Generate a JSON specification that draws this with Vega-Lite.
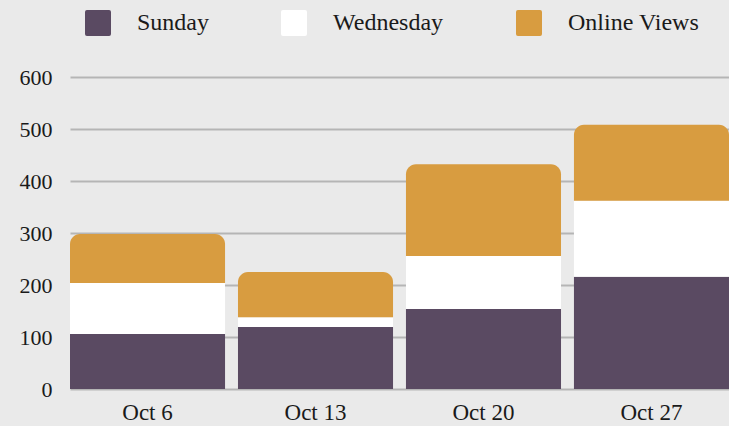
{
  "$schema": "https://vega.github.io/schema/vega-lite/v6.json",
  "autosize": {"type": "none"},
  "padding": {"left": 70, "top": 77, "right": 0, "bottom": 37},
  "width": 659,
  "height": 312,
  "background": "#eaeaea",
  "config": {"view": {"stroke": null}, "font": "Liberation Serif"},
  "data": {
    "values": [
      {"week": "Oct 6", "series": "Sunday", "rank": 1, "value": 106},
      {"week": "Oct 6", "series": "Wednesday", "rank": 2, "value": 98},
      {"week": "Oct 6", "series": "Online Views", "rank": 3, "value": 94},
      {"week": "Oct 13", "series": "Sunday", "rank": 1, "value": 119},
      {"week": "Oct 13", "series": "Wednesday", "rank": 2, "value": 19},
      {"week": "Oct 13", "series": "Online Views", "rank": 3, "value": 87},
      {"week": "Oct 20", "series": "Sunday", "rank": 1, "value": 154},
      {"week": "Oct 20", "series": "Wednesday", "rank": 2, "value": 102},
      {"week": "Oct 20", "series": "Online Views", "rank": 3, "value": 176},
      {"week": "Oct 27", "series": "Sunday", "rank": 1, "value": 216},
      {"week": "Oct 27", "series": "Wednesday", "rank": 2, "value": 146},
      {"week": "Oct 27", "series": "Online Views", "rank": 3, "value": 146}
    ]
  },
  "transform": [
    {"stack": "value", "groupby": ["week"], "sort": [{"field": "rank", "order": "ascending"}], "as": ["y0", "y1"]}
  ],
  "encoding": {
    "x": {
      "field": "week", "type": "nominal", "sort": ["Oct 6", "Oct 13", "Oct 20", "Oct 27"],
      "scale": {"paddingInner": 0.077, "paddingOuter": 0},
      "title": null,
      "axis": {"labelFontSize": 23, "labelPadding": 12, "ticks": false, "domain": false, "labelAngle": 0, "labelColor": "#1a1a1a", "labelFont": "Liberation Serif"}
    },
    "y": {
      "field": "y1", "type": "quantitative",
      "scale": {"domain": [0, 600], "nice": false},
      "title": null,
      "axis": {"values": [0, 100, 200, 300, 400, 500, 600], "labelFontSize": 22, "labelPadding": 18, "ticks": false, "domain": false, "gridColor": "#b5b5b5", "gridWidth": 2, "labelColor": "#1a1a1a", "labelFont": "Liberation Serif"}
    },
    "y2": {"field": "y0"},
    "color": {
      "field": "series", "type": "nominal",
      "scale": {"domain": ["Sunday", "Wednesday", "Online Views"], "range": ["#5a4a62", "#ffffff", "#d89c40"]},
      "legend": {
        "orient": "none", "legendX": 15, "legendY": -67, "direction": "horizontal", "title": null,
        "symbolType": "M-0.85,-1H0.85Q1,-1 1,-0.85V0.85Q1,1 0.85,1H-0.85Q-1,1 -1,0.85V-0.85Q-1,-1 -0.85,-1Z",
        "symbolSize": 676, "symbolStrokeWidth": 0, "symbolOpacity": 1,
        "labelFontSize": 24, "labelOffset": 26, "columnPadding": 72, "labelColor": "#1a1a1a", "labelFont": "Liberation Serif"
      }
    }
  },
  "layer": [
    {"transform": [{"filter": "datum.series !== 'Online Views'"}], "mark": {"type": "bar"}},
    {"transform": [{"filter": "datum.series === 'Online Views'"}], "mark": {"type": "bar", "cornerRadiusTopLeft": 10, "cornerRadiusTopRight": 10}}
  ]
}
